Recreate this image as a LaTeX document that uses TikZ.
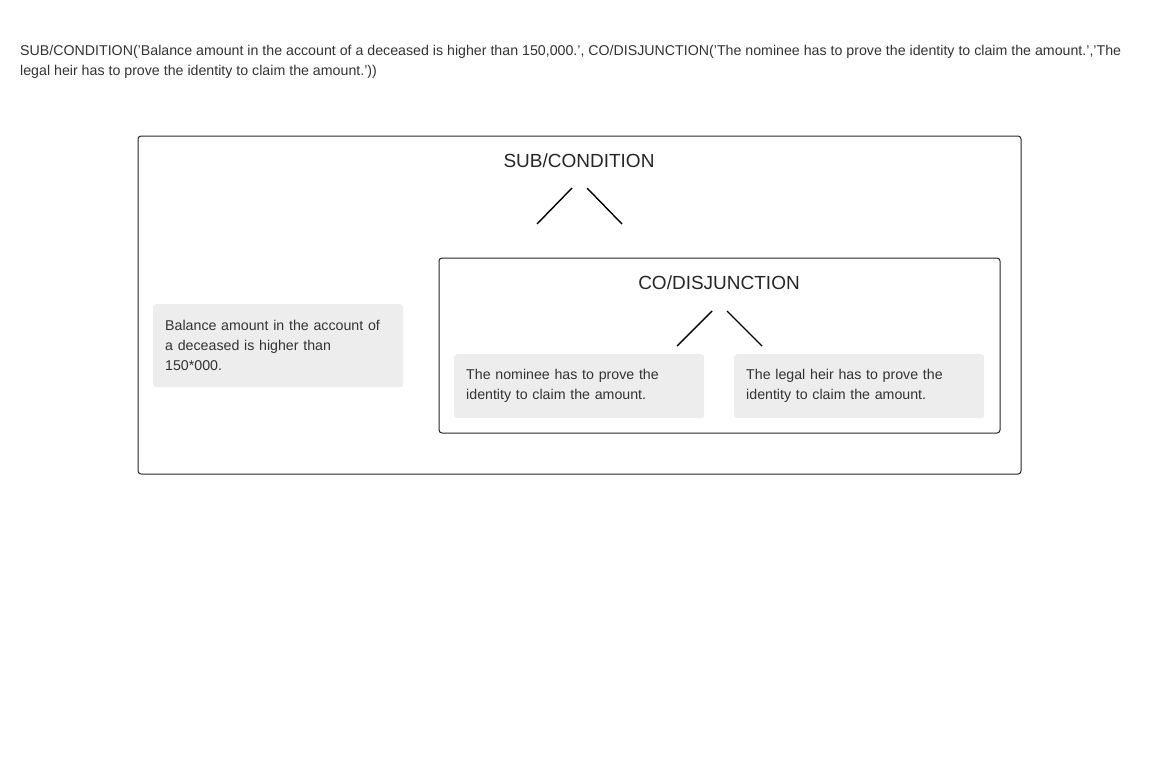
\documentclass[tikz,border=0pt]{standalone}
\usepackage{fontspec}
\setmainfont{Liberation Sans}
\usepackage{tikz}
\tikzset{
  frame/.style={draw=black!85,line width=1pt,rounded corners=3pt},
  leafbox/.style={fill=black!7,rounded corners=3pt,anchor=north west,
    minimum width=250pt,inner xsep=12pt,inner ysep=0pt,
    text width=226pt,align=left,text=black!80,
    font=\fontsize{14.2}{20}\selectfont},
  optitle/.style={inner sep=0.75pt,text=black!85,font=\fontsize{19}{22}\selectfont},
  fork/.style={line width=1.4pt}
}
\begin{document}
\begin{tikzpicture}[x=1pt,y=1pt,yscale=-1,xscale=1]
\useasboundingbox (0,0) rectangle (1159,764);
%expression
\draw (20,45) node (expr) [anchor=north west][inner sep=0pt][align=left][text=black!80]
  [font=\fontsize{14.2}{20}\selectfont]
  {SUB/CONDITION('Balance amount in the account of a deceased is higher than 150,000.', CO/DISJUNCTION('The nominee has to prove the identity to claim the amount.','The\\
   legal heir has to prove the identity to claim the amount.'))};
%outer frame
\draw [frame] (138,136) rectangle (1021,474);
\node (sub) [optitle] at (579,161) {SUB/CONDITION};
\coordinate (subL0) at (572,188);
\coordinate (subL1) at (537,224);
\coordinate (subR0) at (587,188);
\coordinate (subR1) at (622,224);
\draw [fork] (subL0) -- (subL1);
\draw [fork] (subR0) -- (subR1);
\node (cond) [leafbox,minimum height=83pt] at (153,304)
  {Balance amount in the account of\\ a deceased is higher than\\ 150*000.};
%inner frame
\draw [frame] (439,258) rectangle (1000,433);
\node (co) [optitle] at (719,283) {CO/DISJUNCTION};
\coordinate (coL0) at (712,311);
\coordinate (coL1) at (677,346);
\coordinate (coR0) at (727,311);
\coordinate (coR1) at (762,346);
\draw [fork] (coL0) -- (coL1);
\draw [fork] (coR0) -- (coR1);
\node (nominee) [leafbox,minimum height=64pt] at (454,354)
  {The nominee has to prove the\\ identity to claim the amount.};
\node (heir) [leafbox,minimum height=64pt] at (734,354)
  {The legal heir has to prove the\\ identity to claim the amount.};
\end{tikzpicture}
\end{document}
